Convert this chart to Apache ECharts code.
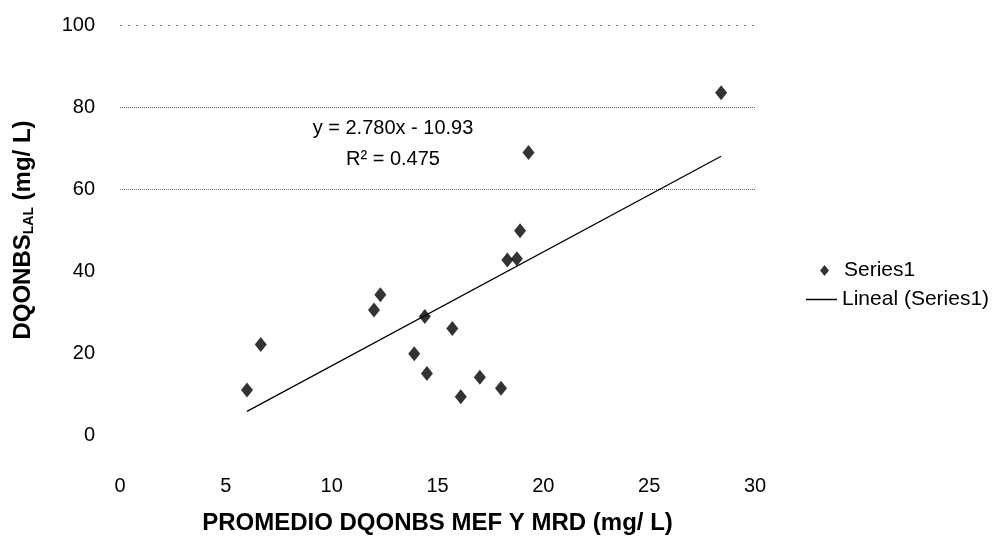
<!DOCTYPE html>
<html>
<head>
<meta charset="utf-8">
<script src="https://cdn.jsdelivr.net/npm/echarts@6/dist/echarts.min.js"></script>
<style>html,body{margin:0;padding:0;background:#fff}#c{width:1008px;height:547px}</style>
</head>
<body>
<div id="c"></div>
<script>
// Data
const xValues = [6.0, 6.65, 12.0, 12.3, 13.9, 14.4, 14.5, 15.7, 16.1, 17.0, 18.0, 18.3, 18.75, 18.9, 19.3, 28.4];
const yValues = [11.0, 22.1, 30.5, 34.2, 19.8, 28.9, 15.0, 26.0, 9.3, 14.1, 11.4, 42.7, 43.0, 49.8, 68.9, 83.5];
const trendX = [6.0, 28.4];
const trendY = [5.75, 68.0];
const xTicks = [0, 5, 10, 15, 20, 25, 30];
const yTicks = [0, 20, 40, 60, 80, 100];
const seriesName = 'Series1';
const trendName = 'Lineal (Series1)';
const equationText = 'y = 2.780x - 10.93';
const r2Text = 'R² = 0.475';

const FONT = 'Liberation Sans, Arial, sans-serif';
const chart = echarts.init(document.getElementById('c'));
const pts = xValues.map((x, i) => [x, yValues[i]]);
const trend = trendX.map((x, i) => [x, trendY[i]]);

chart.setOption({
  animation: false,
  backgroundColor: '#fff',
  textStyle: { fontFamily: FONT, color: '#000' },
  grid: { left: 120, right: 253, top: 25, bottom: 112 },
  xAxis: {
    type: 'value', min: xTicks[0], max: xTicks[xTicks.length - 1], interval: 5,
    axisLine: { show: false }, axisTick: { show: false }, splitLine: { show: false },
    axisLabel: { fontSize: 20, color: '#000', margin: 41, fontFamily: FONT },
    name: 'PROMEDIO DQONBS MEF Y MRD (mg/ L)',
    nameLocation: 'middle', nameGap: 76,
    nameTextStyle: { fontSize: 24, fontWeight: 'bold', color: '#000', fontFamily: FONT }
  },
  yAxis: {
    type: 'value', min: yTicks[0], max: yTicks[yTicks.length - 1], interval: 20,
    axisLine: { show: false }, axisTick: { show: false },
    splitLine: { show: true, lineStyle: { color: ['rgba(0,0,0,0)', 'rgba(0,0,0,0)', 'rgba(0,0,0,0)', '#666', '#666', 'rgba(0,0,0,0)'], type: [1, 1], width: 1 } },
    axisLabel: { fontSize: 20, color: '#000', margin: 25, fontFamily: FONT },
    name: '{a|DQONBS}{b|LAL}{a| (mg/ L)}',
    nameLocation: 'middle', nameGap: 84, nameRotate: 90,
    nameTextStyle: {
      rich: {
        a: { fontSize: 24, fontWeight: 'bold', color: '#000', fontFamily: FONT },
        b: { fontSize: 14, fontWeight: 'bold', color: '#000', fontFamily: FONT, padding: [11, 0, 0, 0] }
      }
    }
  },
  legend: [
    {
      data: [{ name: seriesName, icon: 'diamond' }],
      left: 815, top: 255, orient: 'vertical',
      itemWidth: 9, itemHeight: 11,
      textStyle: { fontSize: 21, color: '#000', fontFamily: FONT, padding: [0, 0, 0, 10] }
    },
    {
      data: [{ name: trendName, icon: 'rect' }],
      left: 801, top: 284, orient: 'vertical',
      itemWidth: 31, itemHeight: 1.5,
      textStyle: { fontSize: 21, color: '#000', fontFamily: FONT }
    }
  ],
  series: [
    {
      name: seriesName, type: 'scatter', data: pts,
      symbol: 'diamond', symbolSize: [12, 15],
      itemStyle: { color: '#000' }, z: 3
    },
    {
      name: trendName, type: 'line', data: trend,
      symbol: 'none', lineStyle: { color: '#000', width: 1.3 },
      itemStyle: { color: '#000' },
      markLine: {
        silent: true, symbol: 'none', label: { show: false },
        lineStyle: { color: '#777', type: [2, 6], width: 1 },
        data: [{ yAxis: yTicks[yTicks.length - 1] }]
      }
    }
  ],
  graphic: [
    { type: 'text', x: 393, y: 128, style: { text: equationText, fontSize: 20, fontFamily: FONT, fill: '#000', align: 'center', verticalAlign: 'middle' } },
    { type: 'text', x: 393, y: 159, style: { text: r2Text, fontSize: 20, fontFamily: FONT, fill: '#000', align: 'center', verticalAlign: 'middle' } }
  ]
});
</script>
</body>
</html>
